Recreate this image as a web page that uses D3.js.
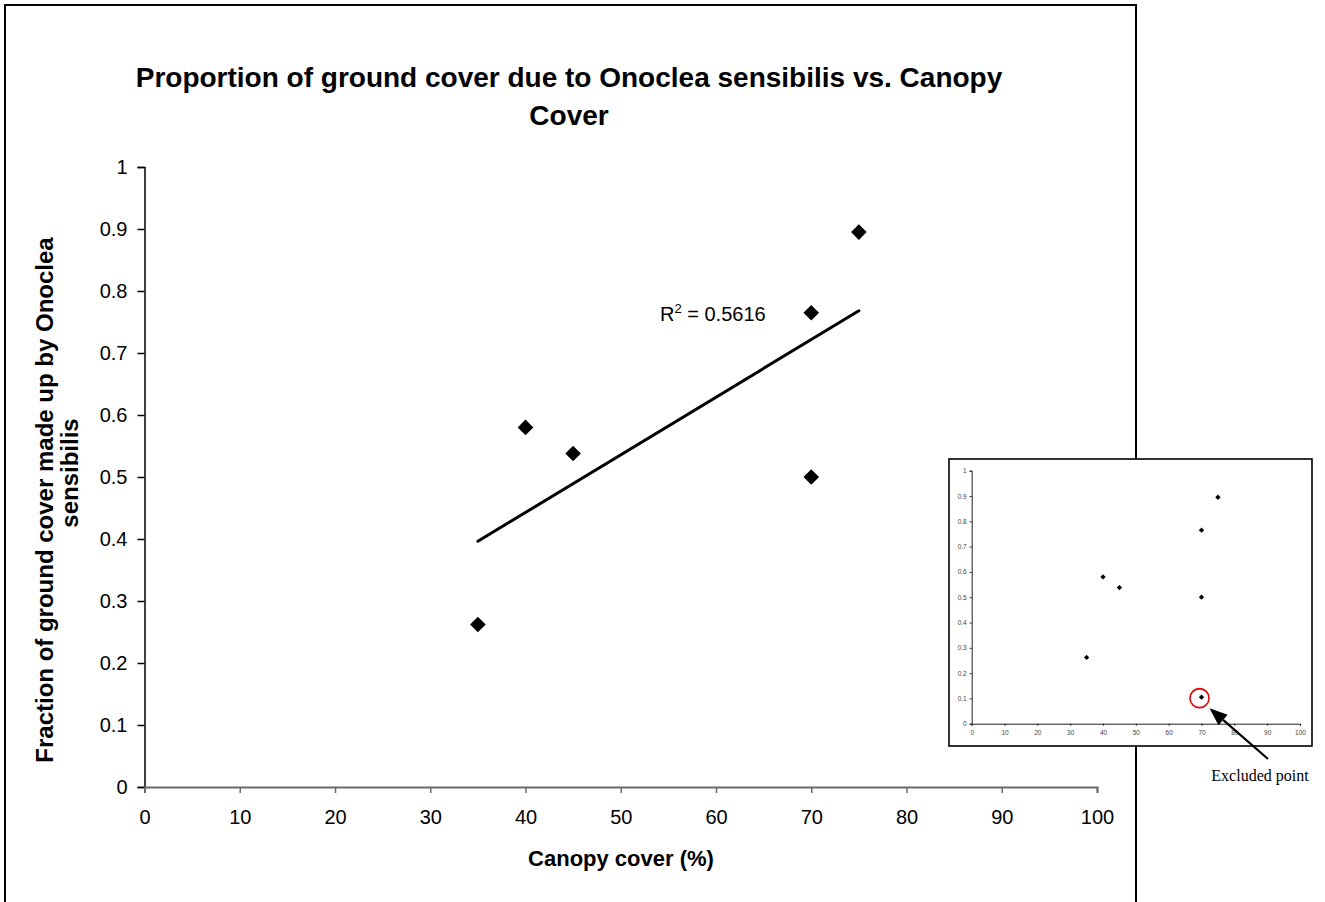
<!DOCTYPE html>
<html>
<head>
<meta charset="utf-8">
<script src="https://cdn.jsdelivr.net/npm/d3@7/dist/d3.min.js"></script>
<style>
  html, body { margin: 0; padding: 0; background: #fff; }
  svg { display: block; }
</style>
</head>
<body>
<svg id="chart" width="1325" height="902"></svg>
<script>
// ---- data ----
const canopy = [35, 40, 45, 70, 70, 75];
const fraction = [0.262, 0.58, 0.538, 0.765, 0.5, 0.895];
const excludedCanopy = [70];
const excludedFraction = [0.105];
const xTickValues = [0, 10, 20, 30, 40, 50, 60, 70, 80, 90, 100];
const yTickValues = [0, 0.1, 0.2, 0.3, 0.4, 0.5, 0.6, 0.7, 0.8, 0.9, 1];
const titleLines = ["Proportion of ground cover due to Onoclea sensibilis vs. Canopy", "Cover"];
const yTitleLines = ["Fraction of ground cover made up by Onoclea", "sensibilis"];
const xTitle = "Canopy cover (%)";
const r2Text = "0.5616";
const excludedLabel = "Excluded point";

const svg = d3.select("#chart");
const FONT = "Liberation Sans, Arial, sans-serif";

// outer border
svg.append("rect").attr("x", 5).attr("y", 5).attr("width", 1131).attr("height", 1000)
  .attr("fill", "#fff").attr("stroke", "#000").attr("stroke-width", 2);

// ---- main scales ----
const x = d3.scaleLinear().domain([0, 100]).range([144.5, 1097]);
const y = d3.scaleLinear().domain([0, 1]).range([787, 167]);

// x axis
const gx = svg.append("g").attr("transform", `translate(0,${y(0)})`)
  .call(d3.axisBottom(x).tickValues(xTickValues).tickSize(6).tickPadding(17).tickFormat(d3.format("d")));
gx.select(".domain").attr("stroke", "#6a6a6a").attr("stroke-width", 2);
gx.selectAll(".tick line").attr("stroke", "#6a6a6a").attr("stroke-width", 1.5);
gx.selectAll(".tick text").attr("font-family", FONT).attr("font-size", 20).attr("fill", "#000");

// y axis
const gy = svg.append("g").attr("transform", `translate(${x(0)},0)`)
  .call(d3.axisLeft(y).tickValues(yTickValues).tickSize(7).tickPadding(10).tickFormat(d3.format("~g")));
gy.select(".domain").attr("stroke", "#000").attr("stroke-width", 1.5);
gy.selectAll(".tick line").attr("stroke", "#000").attr("stroke-width", 1.5);
gy.selectAll(".tick text").attr("font-family", FONT).attr("font-size", 20).attr("fill", "#000");
// redraw x domain over y so corner matches
gx.raise();

// trend line (least squares over plotted points)
const n = canopy.length;
const mx = d3.mean(canopy), my = d3.mean(fraction);
let sxy = 0, sxx = 0;
for (let i = 0; i < n; i++) { sxy += (canopy[i] - mx) * (fraction[i] - my); sxx += (canopy[i] - mx) ** 2; }
const slope = sxy / sxx, intercept = my - slope * mx;
const [x0, x1] = d3.extent(canopy);
svg.append("line")
  .attr("x1", x(x0)).attr("y1", y(intercept + slope * x0))
  .attr("x2", x(x1)).attr("y2", y(intercept + slope * x1))
  .attr("stroke", "#000").attr("stroke-width", 3).attr("stroke-linecap", "round");

// markers (diamonds)
const diamond = d3.symbol().type(d3.symbolSquare).size(122);
svg.append("g").selectAll("path").data(canopy.map((c, i) => [c, fraction[i]])).join("path")
  .attr("d", diamond)
  .attr("transform", d => `translate(${x(d[0])},${y(d[1])}) rotate(45)`)
  .attr("fill", "#000");

// R^2 label
const r2 = svg.append("text").attr("x", 660).attr("y", 321)
  .attr("font-family", FONT).attr("font-size", 20).attr("fill", "#000");
r2.append("tspan").text("R");
r2.append("tspan").attr("font-size", 13).attr("dy", -8).text("2");
r2.append("tspan").attr("dy", 8).text(" = " + r2Text);

// title
svg.append("g").selectAll("text").data(titleLines).join("text")
  .attr("x", 569).attr("y", (d, i) => 87 + i * 38)
  .attr("text-anchor", "middle").attr("font-family", FONT).attr("font-weight", "bold")
  .attr("font-size", 28).attr("fill", "#000").text(d => d);

// y title
const yTitleCenters = [500, 473];
svg.append("g").selectAll("text").data(yTitleLines).join("text")
  .attr("transform", (d, i) => `translate(${53 + i * 25},${yTitleCenters[i]}) rotate(-90)`)
  .attr("text-anchor", "middle").attr("font-family", FONT).attr("font-weight", "bold")
  .attr("font-size", 24).attr("fill", "#000").text(d => d);

// x title
svg.append("text").attr("x", 621).attr("y", 866)
  .attr("text-anchor", "middle").attr("font-family", FONT).attr("font-weight", "bold")
  .attr("font-size", 22).attr("fill", "#000").text(xTitle);

// ---- inset ----
svg.append("rect").attr("x", 949).attr("y", 459).attr("width", 363).attr("height", 287)
  .attr("fill", "#fff").attr("stroke", "#000").attr("stroke-width", 1.6);

const ix = d3.scaleLinear().domain([0, 100]).range([971.7, 1300]);
const iy = d3.scaleLinear().domain([0, 1]).range([723.7, 470.7]);

const igx = svg.append("g").attr("transform", `translate(0,${iy(0)})`)
  .call(d3.axisBottom(ix).tickValues(xTickValues).tickSize(2).tickPadding(5).tickFormat(d3.format("d")));
const igy = svg.append("g").attr("transform", `translate(${ix(0)},0)`)
  .call(d3.axisLeft(iy).tickValues(yTickValues).tickSize(2).tickPadding(3).tickFormat(d3.format("~g")));
[igx, igy].forEach(g => {
  g.select(".domain").attr("stroke", "#222").attr("stroke-width", 1);
  g.selectAll(".tick line").attr("stroke", "#222").attr("stroke-width", 1);
  g.selectAll(".tick text").attr("font-family", FONT).attr("font-size", 6.5).attr("fill", "#444");
});

const smallDiamond = d3.symbol().type(d3.symbolSquare).size(14);
const insetPts = canopy.map((c, i) => [c, fraction[i]])
  .concat(excludedCanopy.map((c, i) => [c, excludedFraction[i]]));
svg.append("g").selectAll("path").data(insetPts).join("path")
  .attr("d", smallDiamond)
  .attr("transform", d => `translate(${ix(d[0])},${iy(d[1])}) rotate(45)`)
  .attr("fill", "#000");

// red circle around excluded point
svg.append("circle")
  .attr("cx", ix(excludedCanopy[0]) - 2).attr("cy", iy(excludedFraction[0]) + 1).attr("r", 9.5)
  .attr("fill", "none").attr("stroke", "#e00000").attr("stroke-width", 1.6);

// arrow
const tip = [ix(excludedCanopy[0]) + 8, iy(excludedFraction[0]) + 11];
const tail = [1268, 759];
const ang = Math.atan2(tail[1] - tip[1], tail[0] - tip[0]);
const headLen = 18, headHalf = 7;
const bx = tip[0] + headLen * Math.cos(ang), by = tip[1] + headLen * Math.sin(ang);
svg.append("line").attr("x1", tail[0]).attr("y1", tail[1]).attr("x2", bx).attr("y2", by)
  .attr("stroke", "#000").attr("stroke-width", 2.2);
svg.append("path")
  .attr("d", `M${tip[0]},${tip[1]} L${bx + headHalf * Math.sin(ang)},${by - headHalf * Math.cos(ang)} L${bx - headHalf * Math.sin(ang)},${by + headHalf * Math.cos(ang)} Z`)
  .attr("fill", "#000");

svg.append("text").attr("x", 1260).attr("y", 781).attr("text-anchor", "middle")
  .attr("font-family", "Liberation Serif, Times New Roman, serif").attr("font-size", 16)
  .attr("fill", "#000").text(excludedLabel);
</script>
</body>
</html>
